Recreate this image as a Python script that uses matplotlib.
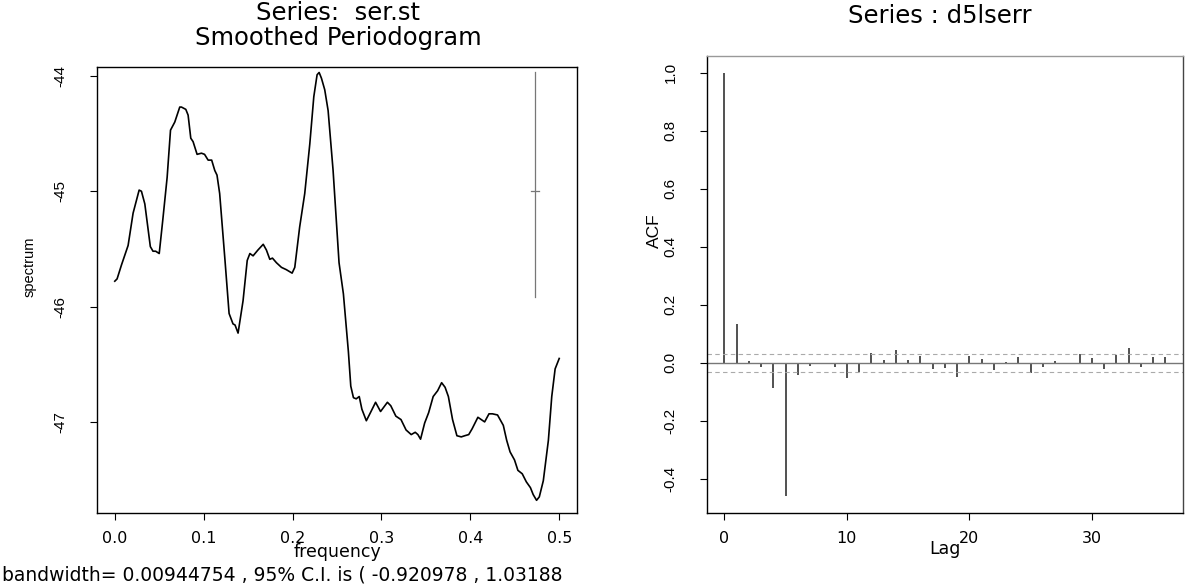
import matplotlib
matplotlib.use("Agg")
import matplotlib.pyplot as plt

plt.rcParams["font.family"] = ["Liberation Sans", "DejaVu Sans"]
WIDE = "DejaVu Sans"   # wider face, closer to the stretched S-Plus lettering

# smoothed periodogram
freq = [0.0, 0.0026, 0.0075, 0.015, 0.0206, 0.0274, 0.030, 0.0338, 0.040, 0.043,
        0.046, 0.050, 0.054, 0.0589, 0.0627, 0.0675, 0.0731, 0.075, 0.0799, 0.0825,
        0.0855, 0.0881, 0.0926, 0.0975, 0.101, 0.105, 0.109, 0.1125, 0.115, 0.118,
        0.124, 0.1286, 0.133, 0.1353, 0.1387, 0.1443, 0.149, 0.152, 0.1556, 0.161,
        0.167, 0.1706, 0.1744, 0.1774, 0.1819, 0.1875, 0.193, 0.1995, 0.2025, 0.208,
        0.2137, 0.2194, 0.2239, 0.2276, 0.2299, 0.2325, 0.2362, 0.240, 0.2456, 0.2523,
        0.2572, 0.2628, 0.2655, 0.2685, 0.2716, 0.275, 0.278, 0.283, 0.2876, 0.2934,
        0.299, 0.3067, 0.3105, 0.3162, 0.322, 0.3277, 0.3335, 0.338, 0.341, 0.344,
        0.3486, 0.3531, 0.3582, 0.3632, 0.3677, 0.3716, 0.3753, 0.380, 0.3849, 0.3898,
        0.3937, 0.3982, 0.402, 0.4085, 0.4123, 0.4161, 0.421, 0.4249, 0.4306, 0.4371,
        0.4409, 0.4447, 0.4497, 0.4535, 0.4584, 0.463, 0.4676, 0.4707, 0.4745, 0.4776,
        0.4821, 0.4878, 0.4916, 0.4954, 0.500]
spec = [-45.78, -45.76, -45.64, -45.47, -45.19, -44.99, -45.00, -45.11, -45.48, -45.52,
        -45.52, -45.54, -45.25, -44.88, -44.47, -44.40, -44.27, -44.27, -44.29, -44.34,
        -44.54, -44.57, -44.68, -44.67, -44.68, -44.73, -44.73, -44.82, -44.86, -45.02,
        -45.60, -46.06, -46.15, -46.16, -46.23, -45.95, -45.60, -45.54, -45.56, -45.51,
        -45.46, -45.51, -45.59, -45.58, -45.62, -45.66, -45.68, -45.71, -45.66, -45.31,
        -45.02, -44.59, -44.18, -43.99, -43.97, -44.02, -44.12, -44.30, -44.82, -45.62,
        -45.89, -46.39, -46.69, -46.79, -46.80, -46.78, -46.89, -46.99, -46.92, -46.83,
        -46.91, -46.83, -46.86, -46.95, -46.98, -47.07, -47.11, -47.09, -47.11, -47.15,
        -47.01, -46.92, -46.78, -46.73, -46.66, -46.70, -46.78, -46.98, -47.12, -47.13,
        -47.12, -47.11, -47.06, -46.96, -46.98, -47.00, -46.93, -46.93, -46.94, -47.03,
        -47.16, -47.26, -47.33, -47.42, -47.45, -47.52, -47.57, -47.63, -47.68, -47.65,
        -47.51, -47.16, -46.78, -46.54, -46.45]

ci_low, ci_high = -0.920978, 1.03188
ci_freq, ci_center = 0.4733, -45.0
bandwidth = 0.00944754

# autocorrelation of d5lserr
lags = list(range(37))
acf = [1.0, 0.133, 0.006, -0.014, -0.086, -0.46, -0.043, -0.010, -0.002, -0.014,
       -0.052, -0.031, 0.034, 0.009, 0.044, 0.008, 0.023, -0.021, -0.018, -0.048,
       0.024, 0.013, -0.024, 0.002, 0.021, -0.034, -0.015, 0.006, -0.006, 0.030,
       0.016, -0.021, 0.028, 0.051, -0.016, 0.021, 0.018]
acf_band = 0.031

W, H = 1186, 586
fig = plt.figure(figsize=(W / 100, H / 100), dpi=100)


def px_axes(x0, y0, x1, y1):
    return fig.add_axes([x0 / W, 1 - y1 / H, (x1 - x0) / W, (y1 - y0) / H])


# -------------------------
# LEFT: smoothed periodogram
# -------------------------
ax1 = px_axes(97, 66.7, 577, 513)
ax1.plot(freq, spec, color="black", lw=1.2)
ax1.plot([ci_freq, ci_freq], [ci_center + ci_low, ci_center + ci_high],
         color="#777777", lw=0.9)
ax1.plot([ci_freq - 0.0045, ci_freq + 0.0045], [ci_center, ci_center],
         color="#777777", lw=0.9)
ax1.set_xlim(-0.02, 0.52)
ax1.set_ylim(-47.79, -43.92)
ax1.set_xticks([0.0, 0.1, 0.2, 0.3, 0.4, 0.5])
ax1.set_xticklabels(["0.0", "0.1", "0.2", "0.3", "0.4", "0.5"])
ax1.set_yticks([-44, -45, -46, -47])
ax1.set_yticklabels(["-44", "-45", "-46", "-47"], rotation=90, va="center")

# -------------------------
# RIGHT: ACF
# -------------------------
ax2 = px_axes(706.7, 56, 1183, 512.5)
ax2.vlines(lags, 0, acf, color="#333333", lw=1.2)
ax2.axhline(0, color="#777777", lw=1.0)
ax2.axhline(acf_band, color="#aaaaaa", lw=0.8, ls=(0, (4, 3)))
ax2.axhline(-acf_band, color="#aaaaaa", lw=0.8, ls=(0, (4, 3)))
ax2.set_xlim(-1.44, 37.44)
ax2.set_ylim(-0.517, 1.058)
ax2.set_xticks([0, 10, 20, 30])
ax2.set_yticks([-0.4, -0.2, 0.0, 0.2, 0.4, 0.6, 0.8, 1.0])
ax2.set_yticklabels(["-0.4", "-0.2", "0.0", "0.2", "0.4", "0.6", "0.8", "1.0"],
                    rotation=90, va="center")
ax2.spines["top"].set_color("#999999")
ax2.spines["right"].set_color("#444444")

for ax in (ax1, ax2):
    ax.tick_params(direction="out", length=5, width=0.8)
    ax.tick_params(axis="x", pad=8)
    ax.tick_params(axis="y", pad=16)
    for lab in ax.get_xticklabels():
        lab.set_fontfamily(WIDE)
        lab.set_fontsize(11.5)
    for lab in ax.get_yticklabels():
        lab.set_fontsize(11)
    for s in ax.spines.values():
        s.set_linewidth(1.0)

# texts
fig.text(338 / W, 1 - 13 / H, "Series:  ser.st", ha="center", va="center",
         fontsize=17.5, family=WIDE)
fig.text(338 / W, 1 - 38 / H, "Smoothed Periodogram", ha="center", va="center",
         fontsize=17.5, family=WIDE)
fig.text(940 / W, 1 - 16 / H, "Series : d5lserr", ha="center", va="center",
         fontsize=17.5, family=WIDE)

fig.text(30 / W, 1 - 267 / H, "spectrum", rotation=90, ha="center", va="center", fontsize=10.5)
fig.text(337 / W, 1 - 552 / H, "frequency", ha="center", va="center",
         fontsize=12.5, family=WIDE)
fig.text(2 / W, 1 - 575 / H,
         f"bandwidth= {bandwidth} , 95% C.I. is ( {ci_low} , {ci_high}",
         ha="left", va="center", fontsize=13.5, family=WIDE)

fig.text(654 / W, 1 - 231 / H, "ACF", rotation=90, ha="center", va="center", fontsize=12.5)
fig.text(945 / W, 1 - 549 / H, "Lag", ha="center", va="center", fontsize=12.5, family=WIDE)

plt.savefig("out.png", dpi=100)
